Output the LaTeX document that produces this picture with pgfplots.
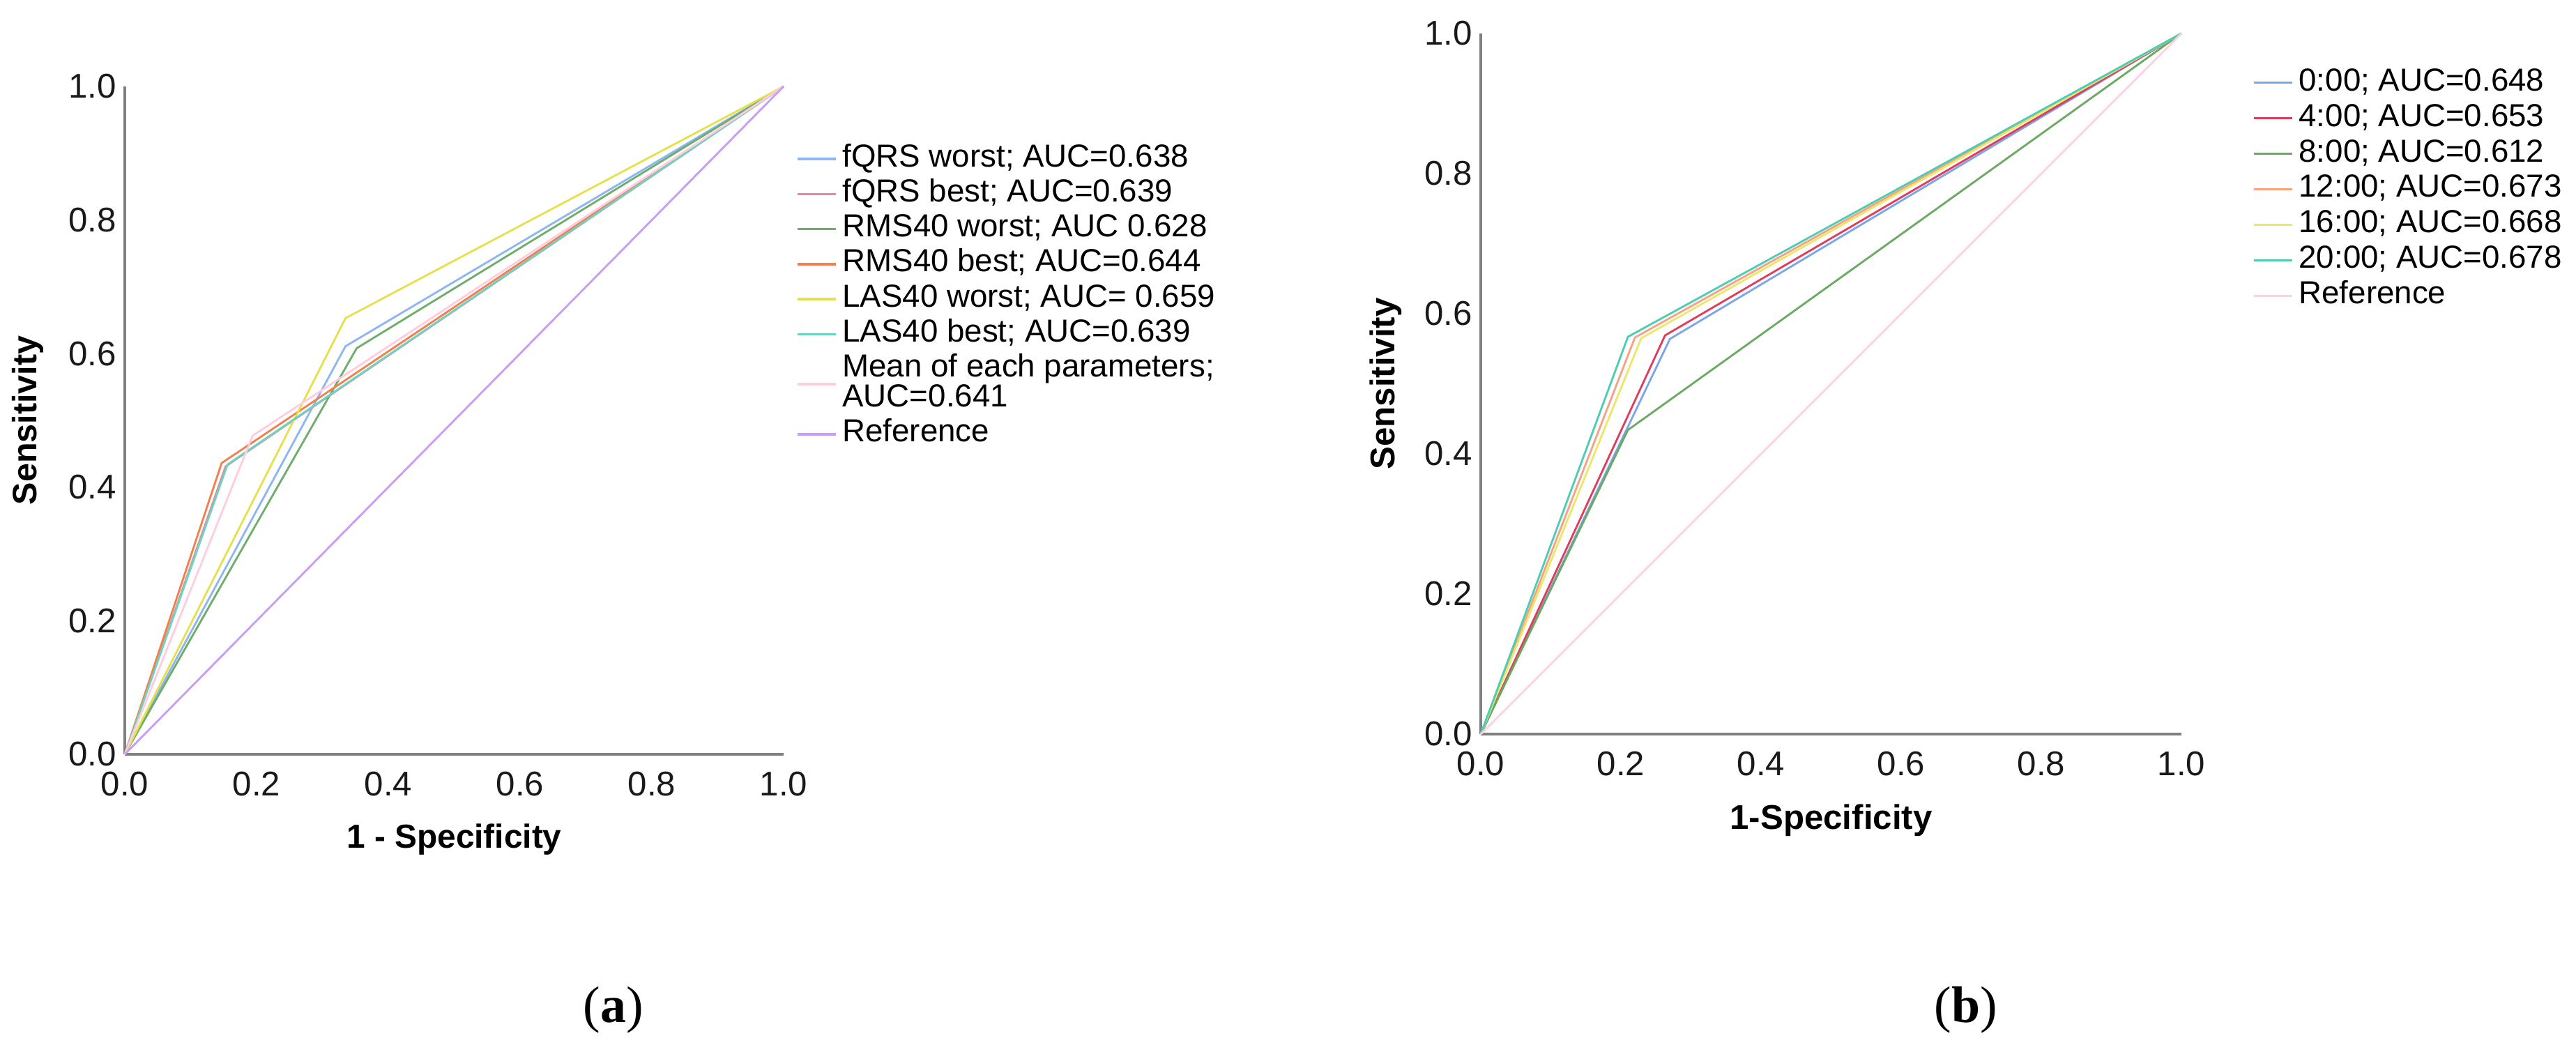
\documentclass[border=0pt]{standalone}
\usepackage{fontspec}
\setmainfont{Liberation Sans}
\newfontfamily\capfont{Liberation Serif}
\usepackage{pgfplots}
\pgfplotsset{compat=1.18}

% SPSS-like palette
\definecolor{aBlue}{HTML}{8DB6F2}
\definecolor{aRed}{HTML}{E8869A}
\definecolor{aGreen}{HTML}{6FAD6B}
\definecolor{aOrange}{HTML}{F2804F}
\definecolor{aYellow}{HTML}{E6E04C}
\definecolor{aTeal}{HTML}{6ED3C2}
\definecolor{aPink}{HTML}{FFCCE0}
\definecolor{aLilac}{HTML}{C99CF6}
\definecolor{bBlue}{HTML}{7BA6E8}
\definecolor{bRed}{HTML}{E03C5C}
\definecolor{bGreen}{HTML}{6AAA62}
\definecolor{bSalmon}{HTML}{F6A283}
\definecolor{bYellow}{HTML}{ECE66A}
\definecolor{bTeal}{HTML}{4CCDB4}
\definecolor{bPink}{HTML}{FFD0E2}

\pgfplotsset{
  rocaxis/.style={
    scale only axis,
    xmin=0, xmax=1, ymin=0, ymax=1,
    clip=false,
    axis lines=left,
    axis line style={-, draw=black!50, line width=0.9pt},
    major tick length=0pt,
    xtick={0,0.2,0.4,0.6,0.8,1},
    ytick={0,0.2,0.4,0.6,0.8,1},
    xticklabels={0.0,0.2,0.4,0.6,0.8,1.0},
    yticklabels={0.0,0.2,0.4,0.6,0.8,1.0},
    tick label style={font=\fontsize{14}{16}\selectfont, text=black!90},
    xticklabel style={yshift=-0.13cm},
    every axis plot/.append style={line width=0.8pt},
    legend cell align=left,
    legend style={draw=none, fill=none, inner sep=0pt, outer sep=0pt,
      column sep=0.08cm, row sep=0pt,
      font=\fontsize{13}{12.2}\selectfont,
      nodes={inner sep=0pt, text height=10.3pt, text depth=4pt}},
    legend image code/.code={\draw[#1, line width=1pt] (0cm,0cm) -- (0.55cm,0cm);},
  },
}

\begin{document}
\begin{tikzpicture}
\useasboundingbox (0,0) rectangle (36.95,14.99);

% (a) signal-averaged ECG parameters
\begin{axis}[rocaxis,
    at={(1.79cm,4.17cm)}, anchor=south west,
    width=9.45cm, height=9.58cm,
    xlabel={1 - Specificity}, ylabel={Sensitivity},
    every axis x label/.style={at={(axis description cs:0.5,-0.127)}, anchor=center,
      font=\bfseries\fontsize{13.6}{16}\selectfont},
    every axis y label/.style={at={(axis description cs:-0.147,0.5)}, rotate=90, anchor=center,
      font=\bfseries\fontsize{13.8}{16}\selectfont},
    legend style={at={(1.019,0.9175)}, anchor=north west},
  ]
  \addplot[aBlue] coordinates {(0,0) (0.335,0.611) (1,1)};
  \addlegendentry{fQRS worst; AUC=0.638}
  \addplot[aRed] coordinates {(0,0) (0.153,0.431) (1,1)};
  \addlegendentry{fQRS best; AUC=0.639}
  \addplot[aGreen] coordinates {(0,0) (0.352,0.608) (1,1)};
  \addlegendentry{RMS40 worst; AUC 0.628}
  \addplot[aOrange] coordinates {(0,0) (0.147,0.436) (1,1)};
  \addlegendentry{RMS40 best; AUC=0.644}
  \addplot[aYellow] coordinates {(0,0) (0.335,0.653) (1,1)};
  \addlegendentry{LAS40 worst; AUC= 0.659}
  \addplot[aTeal] coordinates {(0,0) (0.156,0.434) (1,1)};
  \addlegendentry{LAS40 best; AUC=0.639}
  \addplot[aPink] coordinates {(0,0) (0.194,0.477) (1,1)};
  \addlegendentry[text height=22.5pt]{\rlap{\raisebox{12.2pt}{Mean of each parameters;}}AUC=0.641}
  \addplot[aLilac] coordinates {(0,0) (1,1)};
  \addlegendentry{Reference}
\end{axis}

% (b) time of day
\begin{axis}[rocaxis,
    at={(21.24cm,4.46cm)}, anchor=south west,
    width=10.05cm, height=10.05cm,
    xlabel={1-Specificity}, ylabel={Sensitivity},
    every axis x label/.style={at={(axis description cs:0.5,-0.123)}, anchor=center,
      font=\bfseries\fontsize{14}{16}\selectfont},
    every axis y label/.style={at={(axis description cs:-0.136,0.5)}, rotate=90, anchor=center,
      font=\bfseries\fontsize{14}{16}\selectfont},
    legend style={at={(1.1015,0.955)}, anchor=north west,
      nodes={text height=10.5pt, text depth=4pt}},
  ]
  \addplot[bBlue] coordinates {(0,0) (0.270,0.564) (1,1)};
  \addlegendentry{0:00; AUC=0.648}
  \addplot[bRed] coordinates {(0,0) (0.263,0.569) (1,1)};
  \addlegendentry{4:00; AUC=0.653}
  \addplot[bGreen] coordinates {(0,0) (0.210,0.434) (1,1)};
  \addlegendentry{8:00; AUC=0.612}
  \addplot[bSalmon] coordinates {(0,0) (0.220,0.566) (1,1)};
  \addlegendentry{12:00; AUC=0.673}
  \addplot[bYellow] coordinates {(0,0) (0.229,0.565) (1,1)};
  \addlegendentry{16:00; AUC=0.668}
  \addplot[bTeal] coordinates {(0,0) (0.210,0.567) (1,1)};
  \addlegendentry{20:00; AUC=0.678}
  \addplot[bPink] coordinates {(0,0) (1,1)};
  \addlegendentry{Reference}
\end{axis}

\node[font=\capfont\fontsize{21}{24}\selectfont] at (8.80,0.50) {(\textbf{a})};
\node[font=\capfont\fontsize{21}{24}\selectfont] at (28.20,0.50) {(\textbf{b})};
\end{tikzpicture}
\end{document}
